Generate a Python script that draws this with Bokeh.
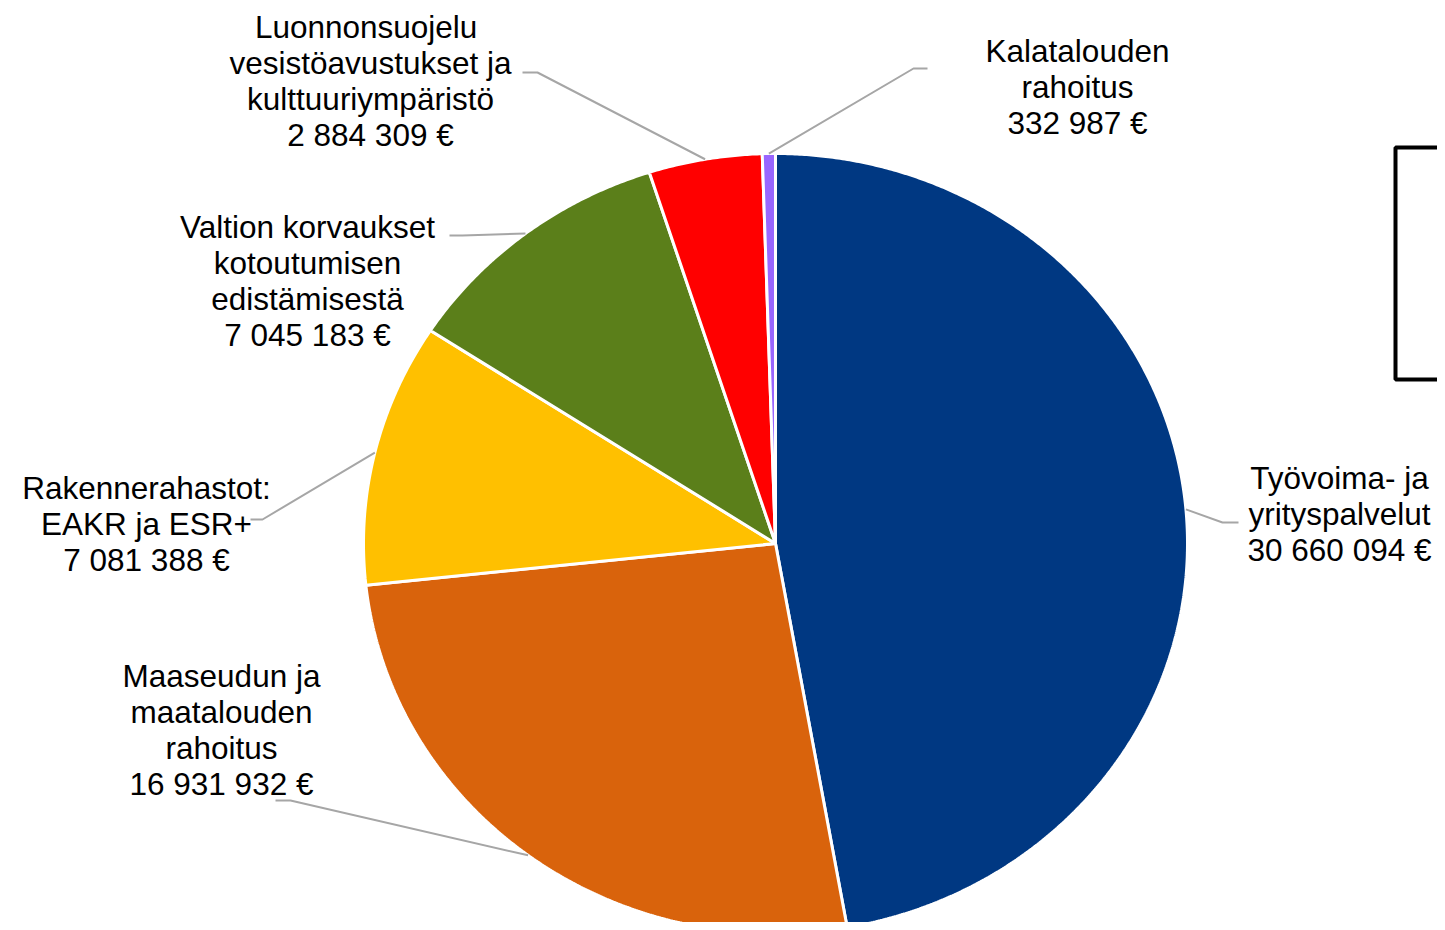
import numpy as np
from bokeh.plotting import figure
from bokeh.models import Range1d, ColumnDataSource
from bokeh.core.properties import value
from bokeh.embed import file_html
from bokeh.resources import INLINE

# ---- data ----
categories = [
    "Työvoima- ja\nyrityspalvelut",
    "Maaseudun ja\nmaatalouden\nrahoitus",
    "Rakennerahastot:\nEAKR ja ESR+",
    "Valtion korvaukset\nkotoutumisen\nedistämisestä",
    "Luonnonsuojelu,\nvesistöavustukset ja\nkulttuuriympäristö",
    "Kalatalouden\nrahoitus",
]
amounts = [30660094, 16931932, 7081388, 7045183, 2884309, 332987]
colors = ["#003882", "#D9630C", "#FFC000", "#5B7F1A", "#FF0000", "#9966FF"]

# ---- layout (screen-like coordinates) ----
CX, CY, RX, RY = 775, 543, 412, 390
label_pos = [(1339, 513), (221, 729), (146, 523), (307, 280), (370, 80), (1077, 86)]
# leader elbow and end points (label side)
leader_elbow = [(1222, 522), (290, 800), (262, 519), (462, 235), (537, 72), (913, 68)]
leader_end = [(1238, 522), (275, 800), (250, 519), (449, 235), (522, 72), (927, 68)]

W, H = 1437, 922
p = figure(width=W, height=H, output_backend="svg", toolbar_location=None,
           x_range=Range1d(0, W), y_range=Range1d(H, 0),
           min_border=0)
p.axis.visible = False
p.grid.visible = False
p.outline_line_color = None
p.background_fill_color = "white"

vals = np.array(amounts, dtype=float)
total = vals.sum()
cum = np.concatenate([[0], np.cumsum(vals)])
starts = 90 - 360 * cum[:-1] / total
ends = 90 - 360 * cum[1:] / total

xs, ys = [], []
for s, e in zip(starts, ends):
    t = np.radians(np.linspace(s, e, max(3, int(abs(s - e) * 3))))
    xs.append(np.concatenate([[CX], CX + RX * np.cos(t), [CX]]))
    ys.append(np.concatenate([[CY], CY - RY * np.sin(t), [CY]]))
p.patches(xs, ys, fill_color=colors, line_color="white", line_width=3)

# leader lines
lx, ly = [], []
for i, (s, e) in enumerate(zip(starts, ends)):
    m = np.radians((s + e) / 2)
    px, py = CX + RX * np.cos(m), CY - RY * np.sin(m)
    lx.append([px, leader_elbow[i][0], leader_end[i][0]])
    ly.append([py, leader_elbow[i][1], leader_end[i][1]])
p.multi_line(lx, ly, line_color="#A6A6A6", line_width=2)

# labels
texts = [f"{c}\n{a:,} €".replace(",", " ") for c, a in zip(categories, amounts)]
src = ColumnDataSource(dict(x=[q[0] for q in label_pos], y=[q[1] for q in label_pos], t=texts))
p.text("x", "y", text="t", source=src, text_font=value("Liberation Sans"),
       text_font_size="31.5px", text_align="center", text_baseline="middle",
       text_color="#000000", text_line_height=1.0)

# partially visible legend frame at right edge
p.quad(left=[1395], right=[1470], top=[147], bottom=[379], fill_color=None,
       line_color="black", line_width=4)

open("out.html", "w").write(file_html(p, INLINE))
